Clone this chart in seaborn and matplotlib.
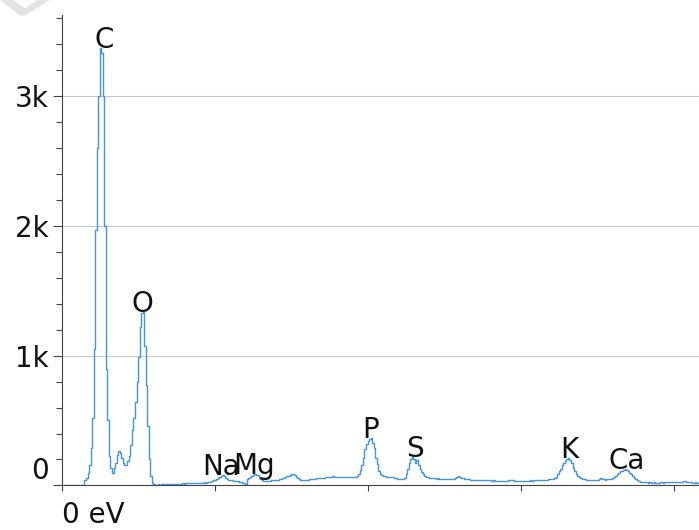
import numpy as np
import pandas as pd
import matplotlib
matplotlib.use("Agg")
import matplotlib.pyplot as plt
from matplotlib.ticker import MultipleLocator
from matplotlib.patches import Polygon
import seaborn as sns

# EDS spectrum: counts per 10 eV channel, starting at 0 keV
CHANNEL_KEV = 0.01
counts = [
    0, 0, 0, 0, 0, 0, 0, 0, 0, 0,
    0, 0, 0, 0, 0, 40, 57, 96, 159, 287,
    516, 1050, 1968, 2600, 3000, 3369, 3331, 3000, 2000, 898,
    503, 230, 134, 95, 135, 175, 235, 268, 250, 215,
    172, 160, 155, 185, 225, 310, 430, 520, 640, 800,
    990, 1220, 1330, 1335, 1073, 773, 461, 200, 70, 18,
    10, 6, 5, 7, 5, 8, 6, 9, 8, 10,
    9, 11, 10, 12, 10, 13, 11, 14, 12, 15,
    14, 16, 15, 18, 16, 19, 17, 20, 18, 21,
    20, 22, 21, 24, 22, 26, 25, 30, 34, 38,
    42, 48, 55, 64, 75, 82, 72, 60, 50, 44,
    40, 38, 36, 34, 32, 31, 30, 28, 22, 15,
    13, 46, 55, 64, 72, 80, 85, 82, 77, 60,
    46, 38, 34, 33, 32, 35, 36, 38, 39, 42,
    44, 45, 46, 50, 55, 60, 64, 70, 74, 77,
    85, 90, 78, 64, 55, 48, 44, 40, 38, 38,
    40, 44, 46, 47, 50, 52, 54, 55, 56, 58,
    57, 60, 62, 63, 61, 64, 66, 69, 68, 66,
    64, 67, 63, 64, 62, 65, 62, 64, 61, 62,
    62, 65, 68, 75, 90, 120, 154, 210, 283, 320,
    340, 360, 365, 330, 290, 210, 162, 110, 85, 78,
    72, 70, 68, 67, 66, 64, 62, 58, 54, 52,
    50, 48, 46, 52, 59, 90, 123, 170, 200, 218,
    200, 175, 193, 160, 123, 100, 85, 75, 68, 62,
    59, 57, 56, 55, 54, 52, 54, 50, 48, 46,
    47, 46, 49, 51, 50, 53, 51, 55, 62, 69,
    64, 58, 54, 52, 50, 48, 46, 45, 44, 43,
    42, 41, 43, 41, 40, 42, 39, 40, 39, 38,
    39, 37, 38, 36, 35, 34, 33, 35, 34, 36,
    35, 37, 38, 40, 41, 39, 37, 36, 35, 34,
    33, 35, 34, 36, 35, 37, 38, 37, 39, 38,
    39, 40, 41, 40, 42, 43, 44, 45, 46, 47,
    48, 50, 55, 64, 85, 110, 130, 155, 175, 188,
    205, 213, 195, 170, 136, 110, 90, 72, 62, 55,
    50, 48, 46, 45, 44, 43, 42, 41, 42, 41,
    43, 48, 54, 50, 47, 45, 46, 48, 46, 52,
    56, 62, 72, 85, 98, 108, 112, 118, 123, 120,
    110, 98, 85, 70, 59, 48, 40, 32, 28, 26,
    25, 24, 23, 22, 24, 22, 21, 23, 22, 21,
    22, 23, 24, 22, 25, 23, 24, 26, 25, 24,
    26, 27, 25, 28, 30, 29, 33, 31, 28, 27,
    25, 24, 22, 21, 23, 22, 21,
]

# Identified elements and their K-alpha line energies (keV)
elements = ["C", "O", "Na", "Mg", "P", "S", "K", "Ca"]
line_kev = [0.277, 0.525, 1.041, 1.253, 2.013, 2.307, 3.313, 3.691]

y_ticks = [0, 1000, 2000, 3000]
y_tick_labels = ["0", "1k", "2k", "3k"]
x_ticks = [0, 1, 2, 3, 4]
x_tick_labels = ["0 eV", "", "", "", ""]

sns.set_theme(style="white")
plt.rcParams["font.family"] = ["DejaVu Sans"]

energy = np.arange(len(counts)) * CHANNEL_KEV
spec = pd.DataFrame({"energy": energy, "counts": counts})

W, H = 699, 530
fig = plt.figure(figsize=(W / 100, H / 100), dpi=100)
fig.patch.set_facecolor("white")

left_px, bottom_px, top_px = 62.3, 485.4, 15.0
px_per_kev, px_per_count = 153.0, 0.1297
ax = fig.add_axes([left_px / W, 1 - bottom_px / H,
                   1 - left_px / W, (bottom_px - top_px) / H])
ax.set_facecolor("white")

sns.lineplot(data=spec, x="energy", y="counts", ax=ax, estimator=None,
             drawstyle="steps-mid", color="#4494e4", linewidth=1.0)

ax.set_xlim(0, (W - left_px) / px_per_kev)
ax.set_ylim(0, (bottom_px - top_px) / px_per_count)
ax.set_xlabel("")
ax.set_ylabel("")

# axes, ticks and grid
for side in ("top", "right"):
    ax.spines[side].set_visible(False)
for side in ("left", "bottom"):
    ax.spines[side].set_color("#444444")
    ax.spines[side].set_linewidth(0.8)

ax.set_yticks(y_ticks, labels=y_tick_labels)
ax.yaxis.set_minor_locator(MultipleLocator(200))
ax.set_xticks(x_ticks, labels=x_tick_labels)
ax.yaxis.grid(True, which="major", color="#c8c8c8", linewidth=0.8)
ax.xaxis.grid(False)
ax.set_axisbelow(True)

ax.tick_params(axis="y", which="major", direction="out", length=6.5, width=0.8,
               color="#444444", labelsize=20, labelcolor="#111111", pad=3.0,
               left=True)
ax.tick_params(axis="y", which="minor", direction="out", length=4.0, width=0.8,
               color="#444444", left=True)
ax.tick_params(axis="x", which="major", direction="out", length=4.5, width=0.8,
               color="#444444", labelsize=20, labelcolor="#111111", pad=7,
               bottom=True)
for lbl in ax.get_xticklabels():
    lbl.set_horizontalalignment("left")
ax.get_yticklabels()[0].set_verticalalignment("bottom")

# element labels sit on top of their peaks
for name, e in zip(elements, line_kev):
    near = spec[(spec["energy"] >= e - 0.03) & (spec["energy"] <= e + 0.03)]
    ax.text(e, near["counts"].max(), name, ha="center", va="baseline",
            fontsize=20, color="#111111")

# faint logo mark in the corner
mark_px = [(0, 0), (13, 0), (25, 8.5), (37, 0), (50, 0), (25, 15.5), (20, 15.5)]
fig.add_artist(Polygon([(x / W, 1 - y / H) for x, y in mark_px],
                       closed=True, transform=fig.transFigure,
                       facecolor="#e3e3e3", edgecolor="none"))

fig.savefig("out.png", dpi=100)
